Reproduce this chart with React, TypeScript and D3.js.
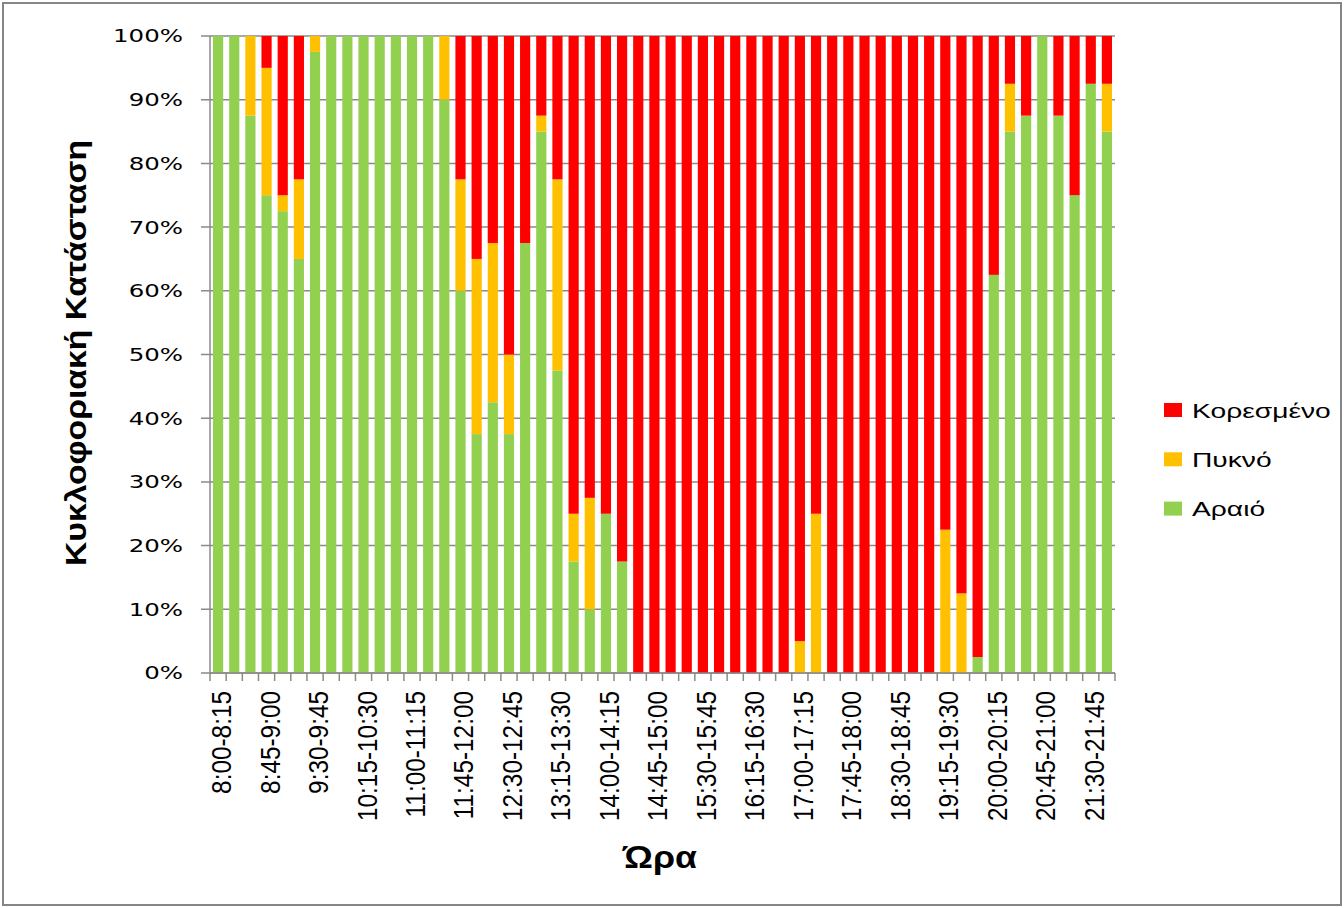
// @ts-nocheck
import React from 'react'
import * as d3 from 'd3'

const timeLabels = [
  '8:00-8:15', '8:15-8:30', '8:30-8:45', '8:45-9:00', '9:00-9:15', '9:15-9:30', '9:30-9:45', '9:45-10:00',
  '10:00-10:15', '10:15-10:30', '10:30-10:45', '10:45-11:00', '11:00-11:15', '11:15-11:30', '11:30-11:45', '11:45-12:00',
  '12:00-12:15', '12:15-12:30', '12:30-12:45', '12:45-13:00', '13:00-13:15', '13:15-13:30', '13:30-13:45', '13:45-14:00',
  '14:00-14:15', '14:15-14:30', '14:30-14:45', '14:45-15:00', '15:00-15:15', '15:15-15:30', '15:30-15:45', '15:45-16:00',
  '16:00-16:15', '16:15-16:30', '16:30-16:45', '16:45-17:00', '17:00-17:15', '17:15-17:30', '17:30-17:45', '17:45-18:00',
  '18:00-18:15', '18:15-18:30', '18:30-18:45', '18:45-19:00', '19:00-19:15', '19:15-19:30', '19:30-19:45', '19:45-20:00',
  '20:00-20:15', '20:15-20:30', '20:30-20:45', '20:45-21:00', '21:00-21:15', '21:15-21:30', '21:30-21:45', '21:45-22:00',
]

// Αραιό (green, bottom)
const araio = [
  100, 100, 87.5, 75, 72.5, 65, 97.5, 100,
  100, 100, 100, 100, 100, 100, 90, 60,
  37.5, 42.5, 37.5, 67.5, 85, 47.5, 17.5, 10,
  25, 17.5, 0, 0, 0, 0, 0, 0,
  0, 0, 0, 0, 0, 0, 0, 0,
  0, 0, 0, 0, 0, 0, 0, 2.5,
  62.5, 85, 87.5, 100, 87.5, 75, 92.5, 85,
]

// Πυκνό (yellow, middle)
const pykno = [
  0, 0, 12.5, 20, 2.5, 12.5, 2.5, 0,
  0, 0, 0, 0, 0, 0, 10, 17.5,
  27.5, 25, 12.5, 0, 2.5, 30, 7.5, 17.5,
  0, 0, 0, 0, 0, 0, 0, 0,
  0, 0, 0, 0, 5, 25, 0, 0,
  0, 0, 0, 0, 0, 22.5, 12.5, 0,
  0, 7.5, 0, 0, 0, 0, 0, 7.5,
]

// Κορεσμένο (red, top)
const koresmeno = [
  0, 0, 0, 5, 25, 22.5, 0, 0,
  0, 0, 0, 0, 0, 0, 0, 22.5,
  35, 32.5, 50, 32.5, 12.5, 22.5, 75, 72.5,
  75, 82.5, 100, 100, 100, 100, 100, 100,
  100, 100, 100, 100, 95, 75, 100, 100,
  100, 100, 100, 100, 100, 77.5, 87.5, 97.5,
  37.5, 7.5, 12.5, 0, 12.5, 25, 7.5, 7.5,
]

const seriesNames = ['Αραιό', 'Πυκνό', 'Κορεσμένο']
const seriesColors = ['#92D050', '#FFC000', '#FF0000']
const legendOrder = ['Κορεσμένο', 'Πυκνό', 'Αραιό']
const yTicks = [0, 10, 20, 30, 40, 50, 60, 70, 80, 90, 100]

const W = 1344
const H = 908
const left = 210
const right = 1115
const top = 36
const bottom = 673

const App = () => {
  const rows = timeLabels.map((t, i) => ({
    t,
    'Αραιό': araio[i],
    'Πυκνό': pykno[i],
    'Κορεσμένο': koresmeno[i],
  }))

  const x = d3.scaleBand().domain(timeLabels).range([left, right]).paddingInner(0.37).paddingOuter(0.185)
  const y = d3.scaleLinear().domain([0, 100]).range([bottom, top])
  const color = d3.scaleOrdinal().domain(seriesNames).range(seriesColors)

  const stacked = d3.stack().keys(seriesNames)(rows)
  const step = x.step()
  const boundaries = d3.range(timeLabels.length + 1).map((i) => left + i * step)

  const axisColor = '#8a8a8a'

  return (
    <svg width={W} height={H} style={{ position: 'absolute', left: 0, top: 0, background: '#fff' }}>
      <rect x={3} y={3} width={W - 6} height={H - 6} fill="#fff" stroke="#868686" strokeWidth={2} />

      {/* gridlines + y ticks */}
      {yTicks.map((v) => (
        <g key={v}>
          <line x1={left - 9} x2={right} y1={y(v)} y2={y(v)} stroke={axisColor} strokeWidth={1.5} />
          <g transform={`translate(183, ${y(v)}) scale(1.36, 1)`}>
            <text textAnchor="end" dy="0.36em" fontFamily="DejaVu Sans" fontSize={18} fill="#000">
              {v + '%'}
            </text>
          </g>
        </g>
      ))}

      {/* bars */}
      {stacked.map((layer) => (
        <g key={layer.key} fill={color(layer.key)}>
          {layer.map((d, i) =>
            d[1] - d[0] > 0 ? (
              <rect key={i} x={x(d.data.t)} y={y(d[1])} width={x.bandwidth()} height={y(d[0]) - y(d[1])} />
            ) : null
          )}
        </g>
      ))}

      {/* axes lines */}
      <line x1={left} x2={left} y1={top} y2={bottom} stroke={axisColor} strokeWidth={1.5} />
      <line x1={left} x2={right} y1={bottom} y2={bottom} stroke={axisColor} strokeWidth={1.5} />
      {boundaries.map((bx, i) => (
        <line key={i} x1={bx} x2={bx} y1={bottom} y2={bottom + 8} stroke={axisColor} strokeWidth={1.5} />
      ))}

      {/* x tick labels, every third */}
      {timeLabels.map((t, i) =>
        i % 3 === 0 ? (
          <text
            key={t}
            transform={`translate(${x(t) + x.bandwidth() / 2 + 13}, 691) rotate(-90) scale(0.87, 1)`}
            textAnchor="end"
            fontFamily="Liberation Sans"
            fontSize={28}
            fill="#000"
          >
            {t}
          </text>
        ) : null
      )}

      {/* axis titles */}
      <text
        transform={`translate(86, 353) rotate(-90)`}
        textAnchor="middle"
        fontFamily="Liberation Sans"
        fontWeight="bold"
        fontSize={29}
        textLength={426}
        lengthAdjust="spacingAndGlyphs"
        fill="#000"
      >
        Κυκλοφοριακή Κατάσταση
      </text>
      <g transform="translate(660, 868) scale(1.15, 1)">
        <text textAnchor="middle" fontFamily="Liberation Sans" fontWeight="bold" fontSize={31} fill="#000">
          Ώρα
        </text>
      </g>

      {/* legend */}
      {legendOrder.map((name, i) => (
        <g key={name} transform={`translate(1164, ${403 + i * 49.3})`}>
          <rect x={0} y={0} width={18} height={14} fill={color(name)} />
          <g transform="translate(28, 14.5) scale(1.41, 1)">
            <text fontFamily="Liberation Sans" fontSize={20} fill="#000">
              {name}
            </text>
          </g>
        </g>
      ))}
    </svg>
  )
}

export default App
